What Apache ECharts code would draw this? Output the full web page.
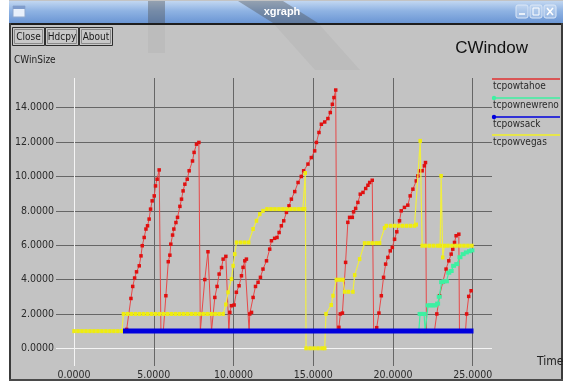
<!DOCTYPE html>
<html>
<head>
<meta charset="utf-8">
<script src="https://cdn.jsdelivr.net/npm/echarts@6/dist/echarts.min.js"></script>
<style>
html,body{margin:0;padding:0;background:#ffffff;}
#chart{width:564px;height:381px;}
</style>
</head>
<body>
<div id="chart"></div>
<script>
// congestion window traces, [time (s), cwnd]
const seriesNames = ['tcpowtahoe', 'tcpownewreno', 'tcpowsack', 'tcpowvegas'];
const xTicks = [0, 5, 10, 15, 20, 25];
const yTicks = [0, 2, 4, 6, 8, 10, 12, 14];

const tahoe = [
  [3.1,1.0],[3.3,1.1],[3.57,2.9],[3.68,3.6],[3.8,4.09],[3.92,4.45],[4.09,4.8],[4.2,5.38],[4.28,5.97],
  [4.4,6.45],[4.51,6.94],[4.61,7.13],[4.71,7.52],[4.8,8.1],[4.9,8.58],[5.03,8.87],[5.11,9.45],[5.21,9.84],[5.34,10.38],
  [5.45,1.0],[5.6,1.0],
  [5.76,3.06],[5.91,5.04],[6.01,5.42],[6.07,6.06],[6.18,6.59],[6.26,6.94],[6.39,7.32],[6.49,7.62],[6.64,8.26],
  [6.74,8.68],[6.84,9.16],[6.95,9.55],[7.1,9.84],[7.22,10.33],[7.43,10.9],[7.53,11.4],[7.68,11.88],[7.83,11.98],
  [7.92,1.0],
  [8.2,4.0],[8.4,5.62],[8.62,1.0],
  [8.83,2.96],[8.97,3.6],[9.1,4.32],[9.25,4.7],[9.35,5.19],[9.52,5.35],[9.71,1.0],
  [9.77,2.09],[9.87,2.48],[10.04,2.52],[10.18,3.26],[10.35,3.64],[10.5,4.22],[10.6,4.71],[10.71,5.09],[10.81,5.19],
  [10.98,1.0],
  [11.02,2.0],[11.13,2.09],[11.23,2.96],[11.38,3.6],[11.54,3.84],[11.69,4.13],[11.85,4.61],[12.07,5.09],[12.27,5.77],
  [12.38,6.26],[12.58,6.4],[12.73,6.45],[12.86,6.74],[13.0,7.13],[13.15,7.42],[13.32,7.91],[13.48,8.29],[13.63,8.68],
  [13.84,9.12],[14.05,9.65],[14.25,10.0],[14.4,10.33],[14.67,10.72],[14.88,11.1],[15.09,11.49],[15.2,11.98],
  [15.36,12.56],[15.51,13.04],[15.72,13.17],[15.92,13.37],[16.07,13.72],[16.2,14.2],[16.3,14.59],[16.41,15.03],
  [16.49,1.0],
  [16.61,1.22],[16.7,2.0],[16.83,2.05],[17.03,5.0],[17.17,7.33],[17.28,7.62],[17.45,7.62],[17.53,7.94],[17.66,8.14],
  [17.8,8.49],[17.95,8.97],[18.12,9.07],[18.29,9.3],[18.43,9.49],[18.54,9.65],[18.7,9.78],
  [18.79,1.0],
  [18.98,1.2],[19.12,2.05],[19.27,3.06],[19.41,4.13],[19.54,4.9],[19.68,5.29],[19.83,5.67],[19.96,5.87],[20.1,6.35],
  [20.24,6.78],[20.41,7.42],[20.52,8.0],[20.72,8.2],[20.93,8.33],[21.08,8.87],[21.25,9.26],[21.46,9.74],[21.56,10.03],
  [21.67,10.33],[21.83,10.33],[21.97,10.62],[22.04,10.81],
  [22.1,1.0],
  [22.6,1.0],[22.75,2.0],[22.92,3.06],[23.12,3.84],[23.33,4.61],[23.5,5.09],[23.65,5.48],[23.75,5.77],[23.86,6.16],
  [23.96,6.55],[24.13,6.64],
  [24.17,1.0],
  [24.55,1.0],[24.62,2.0],[24.75,3.02],[24.9,3.35]
];

const newreno = [
  [21.62,1.0],[21.7,2.0],[21.8,2.0],[21.95,2.0],[22.02,1.0],[22.2,2.5],[22.35,2.5],[22.5,2.5],[22.65,2.5],
  [22.8,2.6],[22.9,3.0],[23.05,3.85],[23.2,3.9],[23.35,3.9],[23.5,4.4],[23.65,4.5],[23.8,4.8],[24.0,4.9],
  [24.2,5.3],[24.4,5.48],[24.6,5.58],[24.8,5.65],[24.95,5.7]
];

const sack = [
  [3.07,1.0],[25.05,1.0]
];

const vegas = [
  [0,1],[0.25,1],[0.5,1],[0.75,1],[1,1],[1.25,1],[1.5,1],[1.75,1],[2,1],[2.25,1],[2.5,1],[2.75,1],[3.0,1],
  [3.1,2],[3.35,2],[3.6,2],[3.85,2],[4.1,2],[4.35,2],[4.6,2],[4.85,2],[5.1,2],[5.35,2],[5.6,2],[5.85,2],[6.1,2],
  [6.35,2],[6.6,2],[6.85,2],[7.1,2],[7.35,2],[7.6,2],[7.85,2],[8.1,2],[8.35,2],[8.6,2],[8.85,2],[9.1,2],[9.35,2],
  [9.52,2.55],[9.66,3.26],[9.87,4.03],[9.98,4.8],[10.08,5.48],[10.19,6.16],
  [10.45,6.16],[10.7,6.16],[10.95,6.16],
  [11.23,6.94],[11.44,7.42],[11.65,7.81],[11.85,8.0],[12.1,8.1],
  [12.35,8.1],[12.6,8.1],[12.85,8.1],[13.1,8.1],[13.35,8.1],[13.6,8.1],[13.85,8.1],[14.1,8.1],[14.35,8.1],[14.46,8.1],
  [14.5,10.2],[14.55,0],
  [14.8,0],[15.05,0],[15.3,0],[15.55,0],[15.72,0],
  [15.8,2.0],[16.13,2.52],[16.24,3.06],[16.45,3.99],[16.65,3.99],[16.86,3.99],[16.97,3.29],[17.2,3.29],[17.49,3.29],
  [17.6,4.26],[17.91,5.19],[18.22,6.12],[18.45,6.12],[18.7,6.12],[18.95,6.12],[19.16,6.12],
  [19.47,7.0],[19.58,7.13],[19.85,7.13],[20.1,7.13],[20.35,7.13],[20.6,7.13],[20.85,7.13],[21.1,7.13],[21.35,7.13],[21.46,7.2],
  [21.71,12.07],[21.83,5.97],
  [22.05,5.97],[22.3,5.97],[22.55,5.97],[22.8,5.97],[22.96,5.97],[23.02,10.03],[23.12,5.29],[23.23,5.97],
  [23.45,5.97],[23.7,5.97],[23.95,5.97],[24.2,5.97],[24.45,5.97],[24.7,5.97],[24.95,5.97]
];

const seriesColors = ['#e03030', '#3ef0a2', '#0000dd', '#f2f024'];

const NARROW = "'Liberation Sans Narrow','DejaVu Sans Condensed','Liberation Sans',sans-serif";
const SANS = "'Liberation Sans',Arial,'DejaVu Sans',sans-serif";
const WIN_GRAY = '#c3c3c3';

const chart = echarts.init(document.getElementById('chart'), null, {renderer: 'canvas'});

function fmt4(v) { return Number(v).toFixed(4); }

// white line for the zero tick, dark grey for the rest
const xSplitColors = xTicks.map(v => v === 0 ? '#f4f4f4' : '#666666');
const ySplitColors = yTicks.map(v => v === 0 ? '#f4f4f4' : '#666666');

// window chrome: title bar, frame, buttons
const chrome = [
  {type: 'rect', z: -20, shape: {x: 9, y: 0, width: 554, height: 381}, style: {fill: WIN_GRAY}},
  {type: 'rect', z: -19, shape: {x: 9, y: 1, width: 554, height: 22},
    style: {fill: {type: 'linear', x: 0, y: 0, x2: 0, y2: 1, colorStops: [
      {offset: 0, color: '#c2d7f1'}, {offset: 0.45, color: '#8fb3e3'}, {offset: 1, color: '#6b96d4'}]}}},
  // faint backdrop shapes over the title bar
  {type: 'rect', z: -18, shape: {x: 148, y: 1, width: 17, height: 22}, style: {fill: 'rgba(80,80,80,0.4)'}},
  {type: 'polygon', z: -18, shape: {points: [[238, 1], [283, 1], [318, 23], [273, 23]]}, style: {fill: 'rgba(80,80,80,0.4)'}},
  {type: 'rect', z: -18, shape: {x: 148, y: 23, width: 17, height: 30}, style: {fill: 'rgba(60,60,60,0.05)'}},
  {type: 'polygon', z: -18, shape: {points: [[273, 23], [318, 23], [360, 70], [315, 70]]}, style: {fill: 'rgba(60,60,60,0.05)'}},
  {type: 'text', z: -17, x: 282, y: 12, style: {text: 'xgraph', fill: '#ffffff', font: 'bold 11px ' + SANS, align: 'center', verticalAlign: 'middle'}},
  // title bar icons
  {type: 'rect', z: -17, shape: {x: 13, y: 6, width: 12, height: 11}, style: {fill: '#e8f0fb', stroke: '#8fa9cf', lineWidth: 1}},
  {type: 'rect', z: -17, shape: {x: 13, y: 6, width: 12, height: 3}, style: {fill: '#7f9ccc'}},
  {type: 'rect', z: -17, shape: {x: 516, y: 5, width: 12, height: 13, r: 2}, style: {fill: 'rgba(255,255,255,0.25)', stroke: '#dbe7f7', lineWidth: 1}},
  {type: 'rect', z: -17, shape: {x: 530, y: 5, width: 12, height: 13, r: 2}, style: {fill: 'rgba(255,255,255,0.25)', stroke: '#dbe7f7', lineWidth: 1}},
  {type: 'rect', z: -17, shape: {x: 544, y: 5, width: 12, height: 13, r: 2}, style: {fill: 'rgba(255,255,255,0.25)', stroke: '#dbe7f7', lineWidth: 1}},
  {type: 'line', z: -16, shape: {x1: 519, y1: 14, x2: 525, y2: 14}, style: {stroke: '#ffffff', lineWidth: 1.5}},
  {type: 'rect', z: -16, shape: {x: 533, y: 8, width: 6, height: 7}, style: {fill: 'none', stroke: '#ffffff', lineWidth: 1}},
  {type: 'line', z: -16, shape: {x1: 547, y1: 8, x2: 553, y2: 15}, style: {stroke: '#ffffff', lineWidth: 1.5}},
  {type: 'line', z: -16, shape: {x1: 553, y1: 8, x2: 547, y2: 15}, style: {stroke: '#ffffff', lineWidth: 1.5}},
  // frame
  {type: 'rect', z: -17, shape: {x: 9, y: 23, width: 554, height: 2}, style: {fill: '#1e1e1e'}},
  {type: 'rect', z: -17, shape: {x: 9, y: 23, width: 2, height: 358}, style: {fill: '#3a3a3a'}},
  {type: 'rect', z: -17, shape: {x: 561, y: 23, width: 2, height: 358}, style: {fill: '#3a3a3a'}},
  {type: 'rect', z: -17, shape: {x: 9, y: 379, width: 554, height: 2}, style: {fill: '#4a4a4a'}}
];

const buttons = [
  {label: 'Close', x: 12, w: 32},
  {label: 'Hdcpy', x: 45, w: 33},
  {label: 'About', x: 79, w: 33}
];
buttons.forEach(b => {
  chrome.push({type: 'rect', z: -15, shape: {x: b.x + 0.5, y: 27.5, width: b.w, height: 18},
    style: {fill: '#c8c8c8', stroke: '#2e2e2e', lineWidth: 1}});
  chrome.push({type: 'rect', z: -15, shape: {x: b.x + 2.5, y: 29.5, width: b.w - 4, height: 14},
    style: {fill: 'none', stroke: '#8a8a8a', lineWidth: 1}});
  chrome.push({type: 'text', z: -14, x: b.x + 0.5 + b.w / 2, y: 37, style: {text: b.label, fill: '#1a1a1a',
    font: '10px ' + NARROW, align: 'center', verticalAlign: 'middle'}});
});

// axis captions
chrome.push({type: 'text', x: 14, y: 60, style: {text: 'CWinSize', fill: '#222', font: '10px ' + NARROW, verticalAlign: 'middle'}});
chrome.push({type: 'text', x: 537, y: 362, style: {text: 'Time', fill: '#222', font: '12px ' + NARROW, verticalAlign: 'middle'}});

// key: a coloured rule with the name under it
const keyRows = [79, 98, 117, 135];
seriesNames.forEach((name, i) => {
  const y = keyRows[i];
  chrome.push({type: 'line', shape: {x1: 492, y1: y, x2: 560, y2: y}, style: {stroke: seriesColors[i], lineWidth: 1.6}});
  if (i === 1 || i === 2) {
    chrome.push({type: 'circle', shape: {cx: 494, cy: y, r: 2.2}, style: {fill: seriesColors[i]}});
  }
  chrome.push({type: 'text', x: 493, y: y + 7, style: {text: name, fill: '#2a2a2a', font: '10px ' + NARROW, verticalAlign: 'middle'}});
});

const option = {
  backgroundColor: '#ffffff',
  animation: false,
  title: {
    text: 'CWindow',
    right: 31,
    top: 35,
    textStyle: {fontFamily: SANS, fontSize: 17, fontWeight: 'normal', color: '#111'}
  },
  grid: {left: 56, right: 72, top: 78, bottom: 14, containLabel: false},
  xAxis: {
    type: 'value',
    min: -1.13,
    max: 26.21,
    axisLine: {show: false},
    axisTick: {show: false, customValues: xTicks},
    axisLabel: {customValues: xTicks, formatter: fmt4, fontFamily: NARROW, fontSize: 10.5, color: '#2a2a2a', margin: 4},
    splitLine: {show: true, lineStyle: {color: xSplitColors, width: 1}}
  },
  yAxis: {
    type: 'value',
    min: -1.03,
    max: 15.73,
    axisLine: {show: false},
    axisTick: {show: false, customValues: yTicks},
    axisLabel: {customValues: yTicks, formatter: fmt4, fontFamily: NARROW, fontSize: 10.5, color: '#2a2a2a', margin: 2},
    splitLine: {show: true, lineStyle: {color: ySplitColors, width: 1}}
  },
  graphic: {elements: chrome},
  series: [
    {
      name: seriesNames[0], type: 'line', data: tahoe, z: 2,
      symbol: 'rect', symbolSize: 3.5, showSymbol: true,
      lineStyle: {color: '#e84848', width: 1},
      itemStyle: {color: '#e01010'}
    },
    {
      name: seriesNames[1], type: 'line', data: newreno, z: 3,
      symbol: 'rect', symbolSize: [5, 4], showSymbol: true,
      lineStyle: {color: seriesColors[1], width: 1.2},
      itemStyle: {color: seriesColors[1]}
    },
    {
      name: seriesNames[3], type: 'line', data: vegas, z: 4,
      symbol: 'rect', symbolSize: [3.5, 4], showSymbol: true,
      lineStyle: {color: '#f0ee40', width: 1.2},
      itemStyle: {color: '#eeec10'}
    },
    {
      name: seriesNames[2], type: 'line', data: sack, z: 5,
      symbol: 'none',
      lineStyle: {color: seriesColors[2], width: 5}
    }
  ]
};

chart.setOption(option);
</script>
</body>
</html>
